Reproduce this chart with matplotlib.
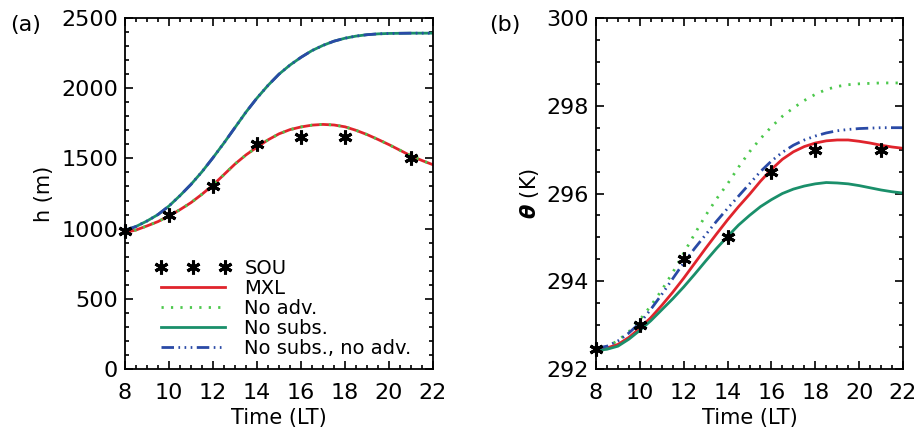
import numpy as np
import matplotlib
matplotlib.use("Agg")
import matplotlib.pyplot as plt
from matplotlib.ticker import MultipleLocator

# time axis of the model curves (LT)
time = [8.0, 8.5, 9.0, 9.5, 10.0, 10.5, 11.0, 11.5, 12.0, 12.5, 13.0, 13.5, 14.0, 14.5,
        15.0, 15.5, 16.0, 16.5, 17.0, 17.5, 18.0, 18.5, 19.0, 19.5, 20.0, 20.5, 21.0, 21.5, 22.0]

# soundings
sou_time = [8, 10, 12, 14, 16, 18, 21]
sou_h = [980, 1100, 1300, 1600, 1650, 1650, 1500]
sou_theta = [292.45, 293.0, 294.5, 295.0, 296.5, 297.0, 297.0]

# (a) boundary layer height (m)
h_mxl = [972, 990, 1019, 1050, 1090, 1135, 1185, 1245, 1310, 1385, 1460, 1525, 1580, 1632,
         1675, 1705, 1724, 1737, 1742, 1738, 1725, 1700, 1670, 1635, 1598, 1558, 1518, 1485, 1455]
h_noadv = h_mxl
h_nosubs = [988, 1015, 1054, 1100, 1161, 1235, 1315, 1405, 1505, 1610, 1720, 1830, 1930, 2020,
            2100, 2165, 2220, 2268, 2305, 2335, 2356, 2371, 2381, 2387, 2390, 2391, 2392, 2392, 2392]
h_nosubs_noadv = h_nosubs

# (b) potential temperature (K)
th_mxl = [292.45, 292.48, 292.56, 292.72, 292.93, 293.17, 293.45, 293.75, 294.07, 294.41,
          294.75, 295.08, 295.40, 295.70, 295.98, 296.28, 296.55, 296.78, 296.95, 297.07,
          297.15, 297.20, 297.22, 297.22, 297.19, 297.15, 297.10, 297.06, 297.03]
th_noadv = [292.45, 292.50, 292.65, 292.85, 293.12, 293.44, 293.80, 294.20, 294.64, 295.08,
            295.50, 295.88, 296.22, 296.60, 296.95, 297.25, 297.52, 297.76, 297.95, 298.12,
            298.26, 298.37, 298.44, 298.48, 298.50, 298.51, 298.52, 298.52, 298.52]
th_nosubs = [292.42, 292.45, 292.52, 292.68, 292.88, 293.10, 293.35, 293.60, 293.87, 294.16,
             294.46, 294.75, 295.02, 295.28, 295.50, 295.70, 295.86, 296.00, 296.10, 296.17,
             296.22, 296.25, 296.24, 296.22, 296.18, 296.13, 296.08, 296.04, 296.01]
th_nosubs_noadv = [292.47, 292.52, 292.64, 292.82, 293.05, 293.36, 293.70, 294.06, 294.42, 294.75,
                   295.06, 295.37, 295.66, 295.94, 296.22, 296.50, 296.74, 296.94, 297.10, 297.22,
                   297.31, 297.38, 297.43, 297.46, 297.48, 297.49, 297.50, 297.50, 297.50]

c_red = "#e0242c"
c_lgreen = "#4cc84c"
c_teal = "#1a8f6a"
c_blue = "#2a4aa6"
dotted = (0, (0.8, 2.6))
dashdotdot = (0, (4.5, 1.6, 0.6, 1.6, 0.6, 1.6, 0.6, 1.6))
star = (6, 2, 0)

plt.rcParams["font.family"] = "DejaVu Sans"

fig = plt.figure(figsize=(9.16, 4.29), dpi=100)
ax1 = fig.add_axes([125 / 916, 60 / 429, 308 / 916, 351 / 429])
ax2 = fig.add_axes([596 / 916, 60 / 429, 307 / 916, 351 / 429])


def style(ax):
    ax.set_xlim(8, 22)
    ax.xaxis.set_major_locator(MultipleLocator(2))
    ax.xaxis.set_minor_locator(MultipleLocator(0.5))
    ax.tick_params(which="both", direction="in", top=True, right=True, width=1.2)
    ax.tick_params(which="major", length=6)
    ax.tick_params(which="minor", length=3)
    ax.tick_params(axis="x", labelsize=16, pad=10)
    ax.tick_params(axis="y", labelsize=16, pad=5)
    for s in ax.spines.values():
        s.set_linewidth(1.3)
    ax.set_xlabel("Time (LT)", fontsize=15, labelpad=4)


lw = 2.0
# (a)
ax1.plot(sou_time, sou_h, linestyle="none", marker=star, ms=10, mew=2.2, color="black",
         label="SOU", clip_on=False, zorder=5)
ax1.plot(time, h_mxl, color=c_red, lw=lw, label="MXL")
ax1.plot(time, h_noadv, color=c_lgreen, lw=lw, linestyle=dotted, label="No adv.")
ax1.plot(time, h_nosubs, color=c_teal, lw=lw, label="No subs.")
ax1.plot(time, h_nosubs_noadv, color=c_blue, lw=lw, linestyle=dashdotdot,
         label="No subs., no adv.")
style(ax1)
ax1.set_ylim(0, 2500)
ax1.yaxis.set_major_locator(MultipleLocator(500))
ax1.yaxis.set_minor_locator(MultipleLocator(100))
ax1.set_ylabel("h (m)", fontsize=15, labelpad=5)
ax1.legend(loc="lower left", bbox_to_anchor=(0.097, 0.032), frameon=False, fontsize=14,
           numpoints=3, handlelength=3.9, handletextpad=0.7, labelspacing=0.05,
           borderpad=0, borderaxespad=0)
fig.text(10 / 916, 1 - 25 / 429, "(a)", fontsize=16, va="center", ha="left")

# (b)
ax2.plot(time, th_mxl, color=c_red, lw=lw)
ax2.plot(time, th_noadv, color=c_lgreen, lw=lw, linestyle=dotted)
ax2.plot(time, th_nosubs, color=c_teal, lw=lw)
ax2.plot(time, th_nosubs_noadv, color=c_blue, lw=lw, linestyle=dashdotdot)
ax2.plot(sou_time, sou_theta, linestyle="none", marker=star, ms=10, mew=2.2, color="black",
         clip_on=False, zorder=5)
style(ax2)
ax2.set_ylim(292, 300)
ax2.yaxis.set_major_locator(MultipleLocator(2))
ax2.yaxis.set_minor_locator(MultipleLocator(0.5))
ax2.set_ylabel(r"$\mathbfit{\theta}$ (K)", fontsize=15, labelpad=4)
fig.text(489 / 916, 1 - 25 / 429, "(b)", fontsize=16, va="center", ha="left")

fig.savefig("out.png", dpi=100)
